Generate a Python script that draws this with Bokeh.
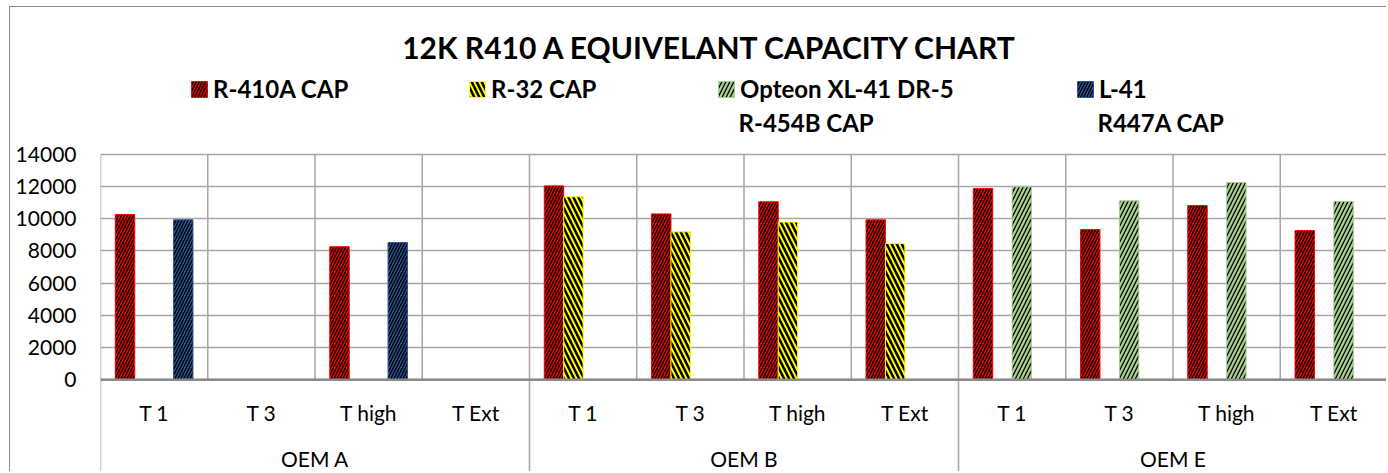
from bokeh.plotting import figure
from bokeh.models import (FactorRange, Range1d, FixedTicker, Legend, LegendItem,
                          Span, Label, ColumnDataSource)
from bokeh.transform import dodge
from bokeh.core.properties import value
from bokeh.embed import file_html
from bokeh.resources import INLINE

nan = float("nan")

# ---------------- data ----------------
groups = ["OEM A", "OEM B", "OEM E"]
tests = ["T 1", "T 3", "T high", "T Ext"]
r410a_cap = [10260, nan, 8260, nan, 12040, 10300, 11050, 9930, 11880, 9330, 10820, 9270]
r32_cap = [nan, nan, nan, nan, 11360, 9190, 9790, 8460, nan, nan, nan, nan]
r454b_cap = [nan, nan, nan, nan, nan, nan, nan, nan, 11980, 11110, 12250, 11070]
r447a_cap = [9930, nan, 8520, nan, nan, nan, nan, nan, nan, nan, nan, nan]
y_ticks = [0, 2000, 4000, 6000, 8000, 10000, 12000, 14000]
legend_line1 = ["R-410A CAP", "R-32 CAP", "Opteon XL-41 DR-5", "L-41"]
legend_line2 = ["", "", "R-454B CAP", "R447A CAP"]
title_text = "12K R410 A EQUIVELANT CAPACITY CHART"

# ---------------- layout constants ----------------
Y_MIN, Y_MAX = -5755, 23115
FONT = "Lato"
GRID = "#a6a6a6"

factors = [(g, t) for g in groups for t in tests]
src = ColumnDataSource(dict(cat=factors, r410a=r410a_cap, r32=r32_cap,
                            r454b=r454b_cap, r447a=r447a_cap))

p = figure(x_range=FactorRange(*factors, factor_padding=0, group_padding=0, range_padding=0),
           y_range=Range1d(Y_MIN, Y_MAX),
           width=1377, height=465, output_backend="svg", toolbar_location=None,
           min_border_left=90, min_border_right=0, min_border_top=0, min_border_bottom=0,
           x_axis_location=None)
p.styles = {"margin-left": "9px", "margin-top": "6px",
            "border-left": "1px solid #8c8c8c", "border-top": "1px solid #8c8c8c"}
p.outline_line_color = None
p.background_fill_color = "white"

# y axis
ax = p.yaxis[0]
ax.ticker = FixedTicker(ticks=y_ticks)
ax.axis_line_color = None
ax.major_tick_line_color = None
ax.minor_tick_line_color = None
ax.major_tick_out = 0
ax.major_tick_in = 0
ax.minor_tick_out = 0
ax.minor_tick_in = 0
ax.major_label_standoff = 24
ax.major_label_text_font = FONT
ax.major_label_text_font_size = "21px"
ax.major_label_text_color = "black"

p.ygrid.ticker = FixedTicker(ticks=y_ticks)
p.ygrid.grid_line_color = GRID
p.ygrid.grid_line_width = 1.5
p.xgrid.grid_line_color = None

# category separators (inside plot) and group separators (in label area)
sep_src = ColumnDataSource(dict(cat=factors, y0=[0] * len(factors), y1=[max(y_ticks)] * len(factors)))
p.segment(x0=dodge("cat", -0.5, range=p.x_range), x1=dodge("cat", -0.5, range=p.x_range),
          y0="y0", y1="y1", source=sep_src, line_color=GRID, line_width=1.5)
gsep_src = ColumnDataSource(dict(cat=[(g, tests[0]) for g in groups],
                                 y0=[Y_MIN] * len(groups), y1=[0] * len(groups)))
p.segment(x0=dodge("cat", -0.5, range=p.x_range), x1=dodge("cat", -0.5, range=p.x_range),
          y0="y0", y1="y1", source=gsep_src, line_color=GRID, line_width=1.5)

# bars
W = 0.181
bar_specs = [
    ("r410a", -0.2716, "#ff0000", "/", 6, 1.5),
    ("r32", -0.0905, "#ffff00", "\\", 10, 2.5),
    ("r454b", 0.0905, "#a9d18e", "/", 8, 1.3),
    ("r447a", 0.2716, "#2f5597", "/", 6, 1.4),
]
renderers = []
for col, off, color, hp, hs, hw in bar_specs:
    r = p.vbar(x=dodge("cat", off, range=p.x_range), top=col, width=W, source=src,
               fill_color=color, line_color=color, line_width=1,
               hatch_pattern=hp, hatch_color="black", hatch_scale=hs, hatch_weight=hw)
    renderers.append(r)

# zero axis line
p.add_layout(Span(location=0, dimension="width", line_color="#8c8c8c", line_width=2.5))

# category labels
p.text(x=factors, y=[-2030] * len(factors), text=[t for g, t in factors],
       text_font=value(FONT), text_font_size="21px", text_color="black",
       text_align="center", text_baseline="middle")
p.text(x=groups, y=[-4880] * len(groups), text=groups,
       text_font=value(FONT), text_font_size="21px", text_color="black",
       text_align="center", text_baseline="middle")

# title (screen units: from the plot area's bottom-left corner)
p.add_layout(Label(x=610, y=425.5, x_units="screen", y_units="screen", text=title_text,
                   text_font=FONT, text_font_size="30px", text_font_style="bold",
                   text_color="black", text_align="center", text_baseline="alphabetic"))

# legends (one per entry, placed like the original)
GW, STANDOFF = 20, 4
leg_x = [89, 367, 616, 975]
for r, lab1, lab2, lx in zip(renderers, legend_line1, legend_line2, leg_x):
    leg = Legend(items=[LegendItem(label=lab1, renderers=[r])], location=(lx, 369),
                 orientation="horizontal", padding=0, margin=0, spacing=0,
                 border_line_color=None, background_fill_alpha=0,
                 glyph_width=GW, glyph_height=GW, label_standoff=STANDOFF,
                 label_text_font=FONT, label_text_font_size="24px",
                 label_text_font_style="bold", label_text_color="black")
    p.add_layout(leg)
    if lab2:
        p.add_layout(Label(x=lx + GW + STANDOFF - 2, y=350, x_units="screen", y_units="screen",
                           text=lab2, text_font=FONT, text_font_size="24px",
                           text_font_style="bold", text_color="black",
                           text_baseline="alphabetic"))

open("out.html", "w").write(file_html(p, INLINE))
